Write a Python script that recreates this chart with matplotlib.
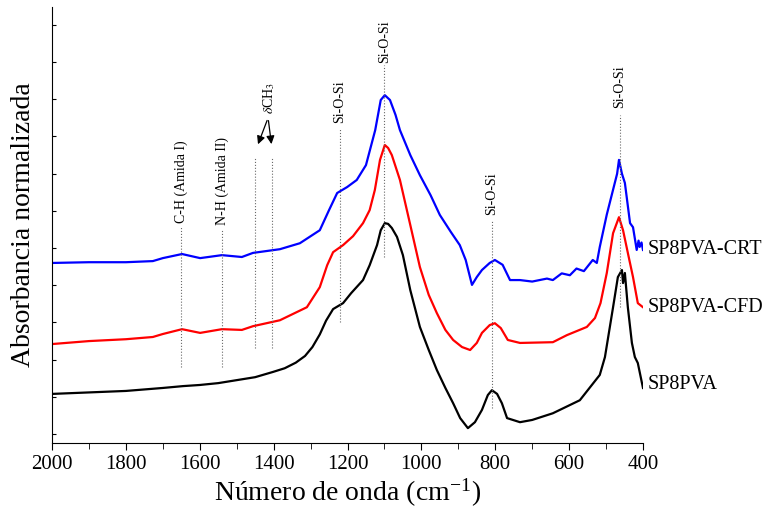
import numpy as np
import matplotlib.pyplot as plt
from matplotlib.ticker import MultipleLocator

plt.rcParams['font.family'] = ['Liberation Serif', 'DejaVu Serif']
plt.rcParams['mathtext.fontset'] = 'stix'

# SP8PVA (negro)
w_pva = [2000, 1900, 1800, 1700, 1645, 1600, 1550, 1500, 1450, 1402, 1370, 1340, 1315, 1295,
         1275, 1258, 1239, 1212, 1190, 1158, 1140, 1120, 1110, 1099, 1090, 1080, 1066, 1050, 1030,
         1004, 980, 958, 935, 914, 895, 874, 855, 836, 820, 809, 795, 782, 768, 733, 700,
         644, 571, 517, 503, 481, 468, 457, 454, 449, 441, 430, 422, 414, 400]
a_pva = [0.108, 0.112, 0.116, 0.124, 0.129, 0.132, 0.137, 0.145, 0.153, 0.167, 0.177, 0.192, 0.210, 0.234,
         0.268, 0.305, 0.336, 0.352, 0.379, 0.414, 0.454, 0.508, 0.548, 0.567, 0.565, 0.554, 0.530, 0.481, 0.387,
         0.288, 0.226, 0.172, 0.124, 0.083, 0.043, 0.016, 0.032, 0.065, 0.105, 0.118, 0.108, 0.083, 0.043, 0.032, 0.038,
         0.056, 0.091, 0.159, 0.207, 0.341, 0.422, 0.441, 0.406, 0.433, 0.341, 0.245, 0.207, 0.191, 0.124]

# SP8PVA-CFD (rojo)
w_cfd = [2000, 1900, 1800, 1727, 1700, 1648, 1599, 1540, 1486, 1456, 1383, 1310, 1275, 1255,
         1239, 1212, 1185, 1158, 1140, 1126, 1112, 1099, 1090, 1080, 1058, 1030, 1004, 980,
         958, 935, 914, 890, 868, 850, 836, 815, 801, 785, 766, 733, 644, 606, 552, 530,
         515, 498, 481, 465, 454, 441, 427, 414, 400]
a_cfd = [0.242, 0.250, 0.255, 0.261, 0.269, 0.282, 0.272, 0.282, 0.280, 0.290, 0.306, 0.341, 0.395, 0.454,
         0.489, 0.508, 0.532, 0.567, 0.602, 0.656, 0.737, 0.777, 0.769, 0.750, 0.683, 0.562, 0.449, 0.374,
         0.325, 0.280, 0.253, 0.234, 0.226, 0.245, 0.272, 0.293, 0.298, 0.285, 0.253, 0.245, 0.247, 0.266, 0.288, 0.312,
         0.352, 0.433, 0.540, 0.583, 0.548, 0.487, 0.422, 0.352, 0.341]

# SP8PVA-CRT (azul)
w_crt = [2000, 1900, 1800, 1727, 1700, 1648, 1599, 1540, 1486, 1456, 1383, 1329, 1275, 1250,
         1228, 1201, 1175, 1150, 1125, 1110, 1099, 1085, 1070, 1058, 1030, 1004, 975, 950,
         920, 896, 880, 863, 850, 836, 815, 801, 780, 760, 733, 700, 660, 644, 620, 598,
         580, 560, 536, 525, 517, 498, 484, 470, 465, 457, 449, 435, 427, 417, 412, 409,
         404, 400]
a_crt = [0.460, 0.462, 0.462, 0.465, 0.473, 0.484, 0.473, 0.481, 0.476, 0.487, 0.497, 0.513, 0.548, 0.602,
         0.648, 0.664, 0.683, 0.723, 0.817, 0.898, 0.911, 0.898, 0.858, 0.817, 0.750, 0.696, 0.642, 0.589,
         0.543, 0.508, 0.468, 0.401, 0.422, 0.441, 0.460, 0.468, 0.455, 0.414, 0.414, 0.410, 0.418, 0.414, 0.432, 0.427,
         0.445, 0.438, 0.468, 0.460, 0.503, 0.590, 0.645, 0.700, 0.737, 0.700, 0.675, 0.567, 0.556, 0.495, 0.520, 0.503,
         0.515, 0.495]

# anotaciones: (número de onda, texto, base del texto, inicio línea, fin línea)
bands = [(1650, 'C-H (Amida I)', 0.567, 0.556, 0.180),
         (1540, 'N-H (Amida II)', 0.562, 0.551, 0.180),
         (1220, 'Si-O-Si', 0.836, 0.823, 0.301),
         (1100, 'Si-O-Si', 0.997, 0.992, 0.476),
         (809, 'Si-O-Si', 0.589, 0.575, 0.070),
         (462, 'Si-O-Si', 0.876, 0.858, 0.341)]
ch3_lines = [1450, 1405]

fig = plt.figure(figsize=(7.65, 5.22), dpi=100)
ax = fig.add_axes([0.068, 0.1513, 0.7725, 0.8353])

ax.plot(w_pva, a_pva, color='black', lw=1.6)
ax.plot(w_cfd, a_cfd, color='red', lw=1.6)
ax.plot(w_crt, a_crt, color='blue', lw=1.6)

for w, txt, yt, y0, y1 in bands:
    ax.plot([w, w], [y1, y0], ls=':', color='dimgray', lw=0.8)
    ax.text(w, yt, txt, rotation=90, ha='center', va='bottom', fontsize=10)
for w in ch3_lines:
    ax.plot([w, w], [0.231, 0.745], ls=':', color='dimgray', lw=0.8)
ax.text(1413, 0.860, r'$\delta$CH$_3$', rotation=90, ha='center', va='bottom', fontsize=10)
for w in ch3_lines:
    ax.annotate('', xy=(w - 5 if w > 1420 else w, 0.772), xytext=(1415, 0.850),
                arrowprops=dict(arrowstyle='-|>', color='black', lw=0.9, mutation_scale=12))

ax.text(387, 0.495, 'SP8PVA-CRT', fontsize=14.5, va='center', ha='left', clip_on=False)
ax.text(387, 0.339, 'SP8PVA-CFD', fontsize=14.5, va='center', ha='left', clip_on=False)
ax.text(387, 0.132, 'SP8PVA', fontsize=14.5, va='center', ha='left', clip_on=False)

ax.set_xlim(2000, 400)
ax.set_ylim(-0.024, 1.148)
ax.xaxis.set_major_locator(MultipleLocator(200))
ax.xaxis.set_minor_locator(MultipleLocator(100))
ax.set_yticks(np.arange(0, 1.15, 0.1))
ax.set_yticklabels([])
ax.tick_params(axis='x', which='both', direction='out', labelsize=15)
ax.tick_params(axis='x', which='major', length=5)
ax.tick_params(axis='x', which='minor', length=4)
ax.tick_params(axis='y', direction='in', length=3)
ax.spines['top'].set_visible(False)
ax.spines['right'].set_visible(False)

ax.set_xlabel(r'Número de onda (cm$^{\mathregular{-1}}$)', fontsize=20, labelpad=2)
ax.set_ylabel('Absorbancia normalizada', fontsize=20, labelpad=8)

fig.savefig('out.png', dpi=100)
